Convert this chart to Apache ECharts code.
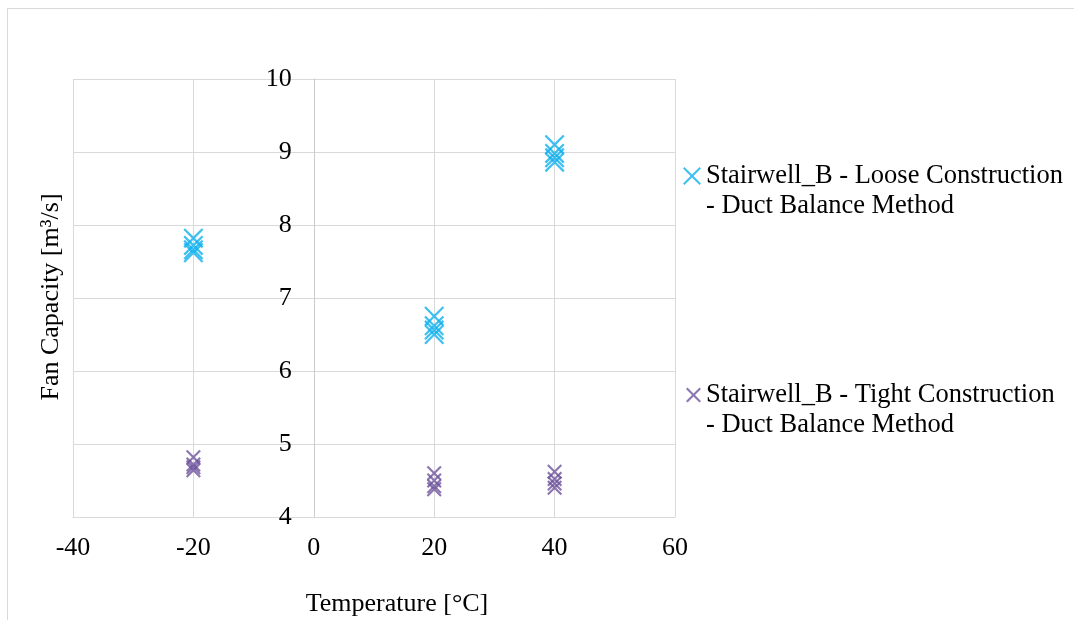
<!DOCTYPE html>
<html>
<head>
<meta charset="utf-8">
<script src="https://cdn.jsdelivr.net/npm/echarts@6/dist/echarts.min.js"></script>
<style>
    html, body { margin: 0; padding: 0; background: #fff; }
    #chart { width: 1074px; height: 620px; }
</style>
</head>
<body>
<div id="chart"></div>
<script>
// 温度（x）与风机容量（y）散点
var looseName = 'Stairwell_B - Loose Construction\n- Duct Balance Method';
var tightName = 'Stairwell_B - Tight Construction\n- Duct Balance Method';
var temps = [-20, -20, -20, -20, 20, 20, 20, 20, 40, 40, 40, 40];
var looseValues = [7.82, 7.72, 7.66, 7.62, 6.75, 6.62, 6.56, 6.50, 9.10, 8.98, 8.92, 8.86];
var tightValues = [4.82, 4.72, 4.68, 4.64, 4.60, 4.50, 4.42, 4.38, 4.62, 4.52, 4.46, 4.40];

var font = 'Liberation Serif';
var gridColor = '#d9d9d9';
var gridLeft = 73, gridRight = 399;
var xMin = -40, xMax = 60;

// X 形标记（细线多边形）
function crossPath(d) {
    var p = [[0, d], [d, 0], [10, 10 - d], [20 - d, 0], [20, d], [10 + d, 10],
        [20, 20 - d], [20 - d, 20], [10, 10 + d], [d, 20], [0, 20 - d], [10 - d, 10]];
    return 'path://M' + p.map(function(pt) { return pt[0] + ',' + pt[1]; }).join(' L') + ' Z';
}
var looseSymbol = crossPath(1.6);
var tightSymbol = crossPath(2.0);

function pairs(xs, ys) {
    return ys.map(function(y, i) { return [xs[i], y]; });
}

// y 轴交于 x=0：用 offset 把左侧轴移进来
var plotWidth = 1074 - gridLeft - gridRight;
var yAxisOffset = -plotWidth * (0 - xMin) / (xMax - xMin);

var legendText = { fontSize: 26.5, color: '#000', fontFamily: font, lineHeight: 30 };

var chart = echarts.init(document.getElementById('chart'));
var option = {
    animation: false,
    textStyle: { fontFamily: font },
    grid: { left: gridLeft, right: gridRight, top: 79, bottom: 103 },
    xAxis: {
        type: 'value',
        min: xMin,
        max: xMax,
        interval: 20,
        axisLine: { lineStyle: { color: gridColor, width: 1 } },
        axisTick: { show: false },
        axisLabel: { fontSize: 26, color: '#000', fontFamily: font, margin: 18 },
        splitLine: { lineStyle: { color: gridColor } }
    },
    yAxis: {
        type: 'value',
        min: 4,
        max: 10,
        interval: 1,
        offset: yAxisOffset,
        axisLine: { show: true, onZero: false, lineStyle: { color: '#cccccc', width: 1 } },
        axisTick: { show: false },
        axisLabel: { fontSize: 26, color: '#000', fontFamily: font, margin: 22 },
        splitLine: { lineStyle: { color: gridColor } }
    },
    legend: [{
        orient: 'vertical',
        left: 683,
        top: 131,
        padding: 0,
        itemWidth: 18,
        itemHeight: 18,
        data: [{ name: looseName, icon: looseSymbol }],
        formatter: function(name) { return '\n' + name; },
        textStyle: legendText
    }, {
        orient: 'vertical',
        left: 686,
        top: 350,
        padding: 0,
        itemWidth: 15,
        itemHeight: 15,
        data: [{ name: tightName, icon: tightSymbol }],
        formatter: function(name) { return '\n' + name; },
        textStyle: legendText
    }],
    graphic: [{
        type: 'rect',
        silent: true,
        shape: { x: 7.5, y: 8.5, width: 1100, height: 700 },
        style: { fill: 'none', stroke: gridColor, lineWidth: 1 }
    }, {
        type: 'text',
        silent: true,
        x: 397,
        y: 604,
        style: {
            text: 'Temperature [°C]',
            align: 'center',
            verticalAlign: 'middle',
            font: '26px "Liberation Serif"',
            fill: '#000'
        }
    }, {
        type: 'text',
        silent: true,
        x: 51,
        y: 297,
        rotation: Math.PI / 2,
        style: {
            text: 'Fan Capacity [m³/s]',
            align: 'center',
            verticalAlign: 'middle',
            font: '26px "Liberation Serif"',
            fill: '#000'
        }
    }],
    series: [{
        name: looseName,
        type: 'scatter',
        symbol: looseSymbol,
        symbolSize: 20,
        itemStyle: { color: '#0fb0ee' },
        data: pairs(temps, looseValues)
    }, {
        name: tightName,
        type: 'scatter',
        symbol: tightSymbol,
        symbolSize: 15,
        itemStyle: { color: '#6e549c' },
        data: pairs(temps, tightValues)
    }]
};
chart.setOption(option);
</script>
</body>
</html>
